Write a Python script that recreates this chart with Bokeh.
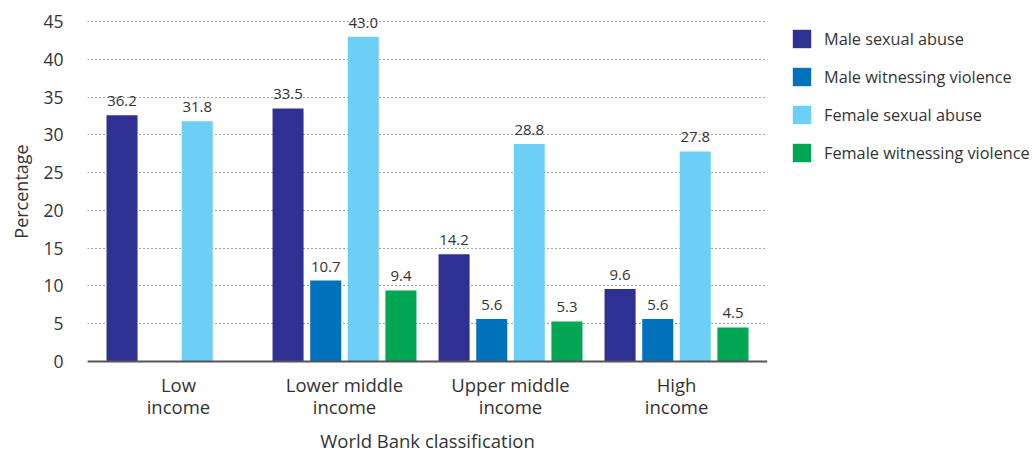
from bokeh.plotting import figure
from bokeh.models import ColumnDataSource, FactorRange, Range1d, Legend, LegendItem, LabelSet, FixedTicker, Span
from bokeh.transform import dodge
from bokeh.core.properties import value
from bokeh.embed import file_html
from bokeh.resources import INLINE

categories = ["Low\nincome", "Lower middle\nincome", "Upper middle\nincome", "High\nincome"]
series_names = ["Male sexual abuse", "Male witnessing violence", "Female sexual abuse", "Female witnessing violence"]
colors = ["#2E3192", "#0072BC", "#6DCFF6", "#00A651"]

nan = float("nan")
male_sexual = [32.6, 33.5, 14.2, 9.6]
male_witness = [nan, 10.7, 5.6, 5.6]
female_sexual = [31.8, 43.0, 28.8, 27.8]
female_witness = [nan, 9.4, 5.3, 4.5]

male_sexual_labels = ["36.2", "33.5", "14.2", "9.6"]
male_witness_labels = ["", "10.7", "5.6", "5.6"]
female_sexual_labels = ["31.8", "43.0", "28.8", "27.8"]
female_witness_labels = ["", "9.4", "5.3", "4.5"]

y_ticks = [0, 5, 10, 15, 20, 25, 30, 35, 40, 45]

FONT = "Open Sans"
TXT = "#333333"

p = figure(frame_width=680, frame_height=370, output_backend="svg", toolbar_location=None,
           x_range=FactorRange(factors=categories, range_padding=0.024),
           y_range=Range1d(-2, 47),
           min_border_left=87, min_border_right=266, min_border_top=6, min_border_bottom=76)
p.outline_line_color = None
p.background_fill_color = "white"
p.border_fill_color = "white"

p.ygrid.grid_line_color = "#444444"
p.ygrid.grid_line_dash = "1 3"
p.ygrid.grid_line_width = 1
p.xgrid.grid_line_color = None

# baseline at zero
p.add_layout(Span(location=0, dimension="width", line_color="#555555", line_width=2))

series = [
    (male_sexual, male_sexual_labels, -0.34),
    (male_witness, male_witness_labels, -0.113),
    (female_sexual, female_sexual_labels, 0.113),
    (female_witness, female_witness_labels, 0.34),
]

items = []
for (vals, labs, off), name, col in zip(series, series_names, colors):
    src = ColumnDataSource(dict(cat=categories, val=vals, lab=labs))
    r = p.vbar(x=dodge("cat", off, range=p.x_range), top="val", bottom=0, width=0.187, source=src,
               fill_color=col, line_color=None)
    items.append(LegendItem(label=name, renderers=[r]))
    ls = LabelSet(x=dodge("cat", off, range=p.x_range), y="val", text="lab", source=src,
                  text_align="center", text_baseline="alphabetic", y_offset=9,
                  text_font=value(FONT), text_font_size=value("15px"), text_color=TXT)
    p.add_layout(ls)

# axes
p.yaxis.ticker = FixedTicker(ticks=y_ticks)
p.yaxis.axis_line_color = None
p.yaxis.major_tick_line_color = None
p.yaxis.minor_tick_line_color = None
p.yaxis.major_label_standoff = 18
p.yaxis.major_label_text_font = FONT
p.yaxis.major_label_text_font_size = "17.5px"
p.yaxis.major_label_text_color = TXT
p.yaxis.axis_label = "Percentage"
p.yaxis.axis_label_text_font = FONT
p.yaxis.axis_label_text_font_size = "18px"
p.yaxis.axis_label_text_font_style = "normal"
p.yaxis.axis_label_text_color = TXT
p.yaxis.axis_label_standoff = 7

p.xaxis.axis_line_color = None
p.xaxis.major_tick_line_color = None
p.xaxis.minor_tick_line_color = None
p.xaxis.major_label_standoff = -11
p.xaxis.major_label_text_font = FONT
p.xaxis.major_label_text_font_size = "18.5px"
p.xaxis.major_label_text_line_height = 0.9
p.xaxis.major_label_text_color = TXT
p.xaxis.axis_label = "World Bank classification"
p.xaxis.axis_label_text_font = FONT
p.xaxis.axis_label_text_font_size = "18.5px"
p.xaxis.axis_label_text_font_style = "normal"
p.xaxis.axis_label_text_color = TXT
p.xaxis.axis_label_standoff = 6

legend = Legend(items=items, location=(23, 212), orientation="vertical",
                glyph_width=23, glyph_height=23, spacing=15, label_standoff=11,
                padding=0, margin=0, border_line_color=None, background_fill_alpha=0,
                label_text_font=FONT, label_text_font_size="16.3px", label_text_color=TXT)
p.add_layout(legend, "right")

open("out.html", "w").write(file_html(p, INLINE))
